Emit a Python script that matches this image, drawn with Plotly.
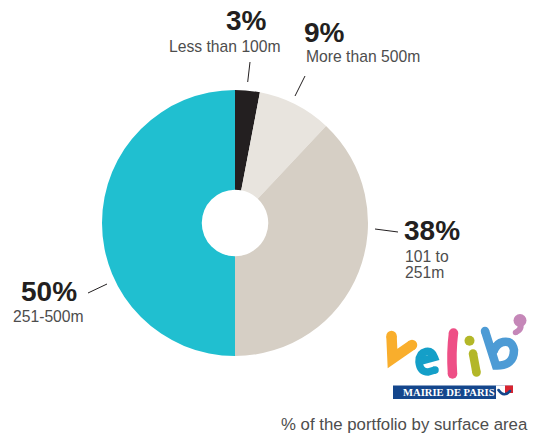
import plotly.graph_objects as go

W, H = 536, 435

# Portfolio split by distance band, clockwise from twelve o'clock
bands = ["Less than 100m", "More than 500m", "101 to 251m", "251-500m"]
shares = [3, 9, 38, 50]
slice_colors = ["#231f20", "#e8e4de", "#d6cfc5", "#20bfd0"]
INK = "#231f20"
GREY = "#4d4d4d"


def px(x):
    return x / W


def py(y):
    return 1 - y / H


def path_to_paper(pts):
    head = pts[0]
    d = f"M{px(head[0]):.5f},{py(head[1]):.5f}"
    for cmd, *coords in pts[1:]:
        d += f" {cmd}" + " ".join(f"{px(coords[i]):.5f},{py(coords[i + 1]):.5f}"
                                  for i in range(0, len(coords), 2))
    return d


shapes = []
annotations = []


def text(x, y, s, size, color=GREY, bold=False, anchor="left", family="Liberation Sans"):
    annotations.append(dict(
        x=px(x), y=py(y), xref="paper", yref="paper", text=f"<b>{s}</b>" if bold else s,
        showarrow=False, xanchor=anchor, yanchor="middle", align=anchor,
        font=dict(family=family, size=size, color=color),
    ))


def leader(x0, y0, x1, y1):
    shapes.append(dict(type="line", xref="paper", yref="paper",
                       x0=px(x0), y0=py(y0), x1=px(x1), y1=py(y1),
                       line=dict(color=INK, width=1)))


def dot(x, y, r, color):
    shapes.append(dict(type="circle", xref="paper", yref="paper",
                       x0=px(x - r), x1=px(x + r), y0=py(y - r), y1=py(y + r),
                       fillcolor=color, line=dict(width=0), layer="above"))


def stroke(start, segments, width, color):
    # Thick brush stroke with rounded ends; segments are (cmd, coords...) tuples
    shapes.append(dict(type="path", xref="paper", yref="paper",
                       path=path_to_paper([start, *segments]),
                       line=dict(color=color, width=width), layer="above"))
    dot(start[0], start[1], width / 2, color)
    dot(segments[-1][-2], segments[-1][-1], width / 2, color)


def box(x0, y0, x1, y1, color):
    shapes.append(dict(type="rect", xref="paper", yref="paper",
                       x0=px(x0), x1=px(x1), y0=py(y1), y1=py(y0),
                       fillcolor=color, line=dict(width=0), layer="above"))


# Leader lines from each label towards its slice
leader(250, 62, 247.7, 82)
leader(305, 76, 295, 96)
leader(375, 229, 398, 232)
leader(88, 293, 107, 284)

# Slice labels
text(246, 21, "3%", 28, INK, True, "center")
text(224.5, 46, "Less than 100m", 15.7, anchor="center")
text(302, 32, "9%", 28, INK, True)
text(303.5, 56.5, "More than 500m", 15.7)
text(402, 231, "38%", 28, INK, True)
text(402.5, 256, "101 to", 15.7)
text(402.5, 272, "251m", 15.7)
text(18.5, 291, "50%", 28, INK, True)
text(10.5, 316, "251-500m", 15.7)
text(529.5, 424, "% of the portfolio by surface area", 16.8, anchor="right")

# Vélib' logo: painted letters above the blue municipal banner
stroke((391.5, 336), [("L", 392.5, 358.5), ("L", 412, 345)], 10.5, "#f9ae2c")
stroke((421, 361), [("L", 434.5, 357.5), ("Q", 432, 350.5, 426, 351.5),
                    ("Q", 419, 353, 419, 362), ("Q", 420, 372, 428, 372),
                    ("L", 435, 370)], 7.5, "#149fc8")
stroke((453.5, 333), [("Q", 451, 352, 452.5, 374)], 9.5, "#ee4f86")
dot(469.5, 340.7, 5, "#b3b728")
stroke((473, 353.5), [("L", 476.5, 372.5)], 8.5, "#b3b728")
stroke((485, 331), [("L", 496, 365.5), ("Q", 514, 366, 514, 350),
                    ("Q", 512, 340, 503, 342), ("Q", 497, 343, 493.5, 351)], 8.5, "#4d9bd5")
stroke((520, 322), [("Q", 523, 329, 515.5, 332.5)], 5.5, "#c587b8")
dot(520, 320.5, 6.5, "#c587b8")

box(393, 385.5, 513, 399, "#14468c")
box(496, 385.5, 513, 399, "#ffffff")
box(505, 385.5, 513, 393, "#d8232f")
stroke((498.5, 390), [("Q", 504, 398, 510, 391)], 2.6, "#14468c")
text(401, 392.5, "MAIRIE DE PARIS", 10.6, "#ffffff", True, family="Liberation Serif")

fig = go.Figure(go.Pie(
    labels=bands, values=shares, sort=False, direction="clockwise", rotation=0,
    hole=0.25, textinfo="none", hoverinfo="label+percent",
    marker=dict(colors=slice_colors, line=dict(width=0)),
    domain=dict(x=[px(102), px(368)], y=[py(356), py(90)]),
    showlegend=False,
))
fig.update_layout(
    width=W, height=H, margin=dict(l=0, r=0, t=0, b=0),
    paper_bgcolor="white", plot_bgcolor="white",
    shapes=shapes, annotations=annotations,
)
fig.write_html("out.html")
